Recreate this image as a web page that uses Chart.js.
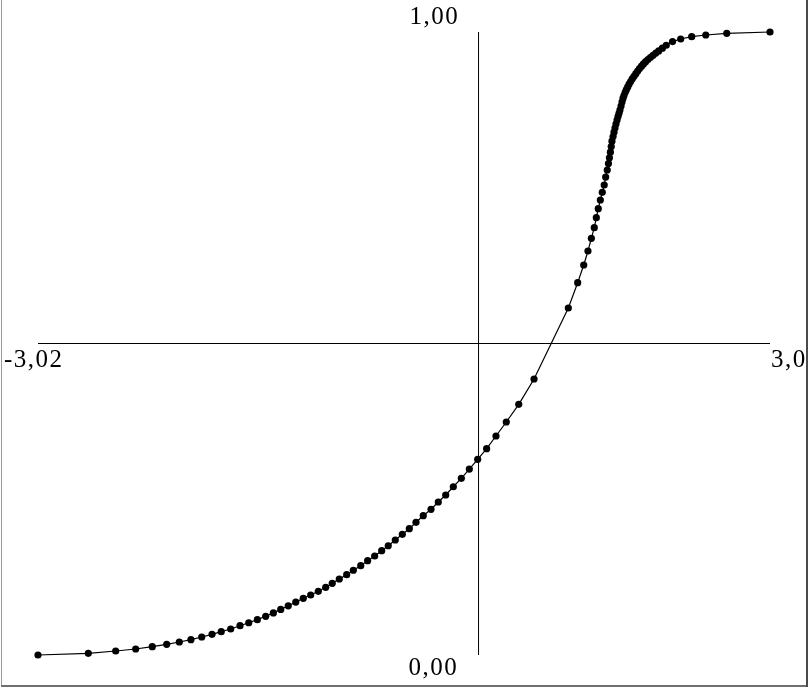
<!DOCTYPE html>
<html>
<head>
<meta charset="utf-8">
<script src="https://cdn.jsdelivr.net/npm/chart.js@4"></script>
<style>
  html, body { margin: 0; padding: 0; background: #fff; }
  canvas { display: block; }
</style>
</head>
<body>
<canvas id="curveChart" width="809" height="688"></canvas>
<script>
// curve points
const curveX = [
  -3.020, -2.605, -2.379, -2.214, -2.077, -1.958, -1.854, -1.758, -1.669, -1.584,
  -1.508, -1.430, -1.353, -1.281, -1.210, -1.141, -1.078, -1.017, -0.955, -0.893,
  -0.831, -0.770, -0.707, -0.646, -0.592, -0.534, -0.473, -0.418, -0.357, -0.300,
  -0.242, -0.184, -0.130, -0.072, -0.014, 0.044, 0.099, 0.159, 0.223, 0.283,
  0.344, 0.407, 0.473, 0.539, 0.608, 0.682, 0.759, 0.844, 0.947, 1.073,
  1.356, 1.433, 1.483, 1.518, 1.546, 1.570, 1.587, 1.603, 1.620, 1.636,
  1.652, 1.664, 1.677, 1.687, 1.695, 1.703, 1.710, 1.716, 1.725, 1.733,
  1.741, 1.749, 1.758, 1.766, 1.774, 1.782, 1.791, 1.799, 1.807, 1.815,
  1.825, 1.835, 1.846, 1.857, 1.870, 1.883, 1.898, 1.913, 1.928, 1.943,
  1.960, 1.976, 1.994, 2.013, 2.033, 2.055, 2.078, 2.102, 2.132, 2.164,
  2.216, 2.283, 2.374, 2.490, 2.663, 3.020
];
const curveY = [
  0.0000, 0.0027, 0.0064, 0.0096, 0.0133, 0.0172, 0.0209, 0.0246, 0.0289, 0.0332,
  0.0374, 0.0417, 0.0470, 0.0518, 0.0567, 0.0621, 0.0676, 0.0732, 0.0790, 0.0849,
  0.0910, 0.0963, 0.1022, 0.1087, 0.1151, 0.1220, 0.1289, 0.1360, 0.1433, 0.1514,
  0.1589, 0.1674, 0.1754, 0.1846, 0.1937, 0.2027, 0.2130, 0.2236, 0.2339, 0.2456,
  0.2568, 0.2701, 0.2836, 0.2985, 0.3141, 0.3311, 0.3515, 0.3740, 0.4024, 0.4430,
  0.5570, 0.5976, 0.6260, 0.6485, 0.6688, 0.6859, 0.7019, 0.7164, 0.7303, 0.7427,
  0.7544, 0.7672, 0.7785, 0.7888, 0.7981, 0.8071, 0.8162, 0.8247, 0.8321, 0.8392,
  0.8459, 0.8523, 0.8587, 0.8642, 0.8695, 0.8748, 0.8812, 0.8876, 0.8933, 0.8979,
  0.9032, 0.9075, 0.9119, 0.9162, 0.9204, 0.9246, 0.9289, 0.9331, 0.9372, 0.9414,
  0.9451, 0.9488, 0.9523, 0.9557, 0.9591, 0.9626, 0.9661, 0.9697, 0.9740, 0.9787,
  0.9846, 0.9888, 0.9925, 0.9952, 0.9979, 1.0000
];

// axes
const xMin = -3.02;
const xMax = 3.02;
const yMin = 0;
const yMax = 1;
const xAxisAtY = 0.5;     // horizontal axis line
const yAxisAtX = 0.615;   // vertical axis line

// labels at the ends of the axes
const xTickLabels = ['-3,02', '3,02'];
const yTickLabels = ['0,00', '1,00'];

const curvePoints = curveX.map((x, i) => ({ x: x, y: curveY[i] }));

// draws the end labels and the frame of the picture
const labelPlugin = {
    id: 'endLabels',
    afterDraw(chart) {
        const ctx = chart.ctx;
        const sx = chart.scales.x;
        const sy = chart.scales.y;
        const axisX = sx.getPixelForValue(yAxisAtX);
        const axisY = sy.getPixelForValue(xAxisAtY);

        ctx.save();
        ctx.beginPath();
        ctx.rect(0, 0, 806, 685);
        ctx.clip();
        ctx.fillStyle = '#000';
        ctx.font = '25px "Liberation Serif", "Times New Roman", serif';
        ctx.letterSpacing = '1.5px';
        ctx.textBaseline = 'alphabetic';
        ctx.textAlign = 'left';
        ctx.fillText(yTickLabels[1], axisX - 69, sy.getPixelForValue(yMax) - 8);
        ctx.fillText(yTickLabels[0], axisX - 70, sy.getPixelForValue(yMin) + 20);
        ctx.fillText(xTickLabels[0], sx.getPixelForValue(xMin) - 34, axisY + 23);
        ctx.fillText(xTickLabels[1], sx.getPixelForValue(xMax) + 1, axisY + 23);
        ctx.restore();

        // frame
        ctx.save();
        ctx.fillStyle = '#9a9a9a';
        ctx.fillRect(1, 0, 1, 686);
        ctx.fillStyle = '#6e6e6e';
        ctx.fillRect(1, 685, 807, 2);
        ctx.fillStyle = '#4a4a4a';
        ctx.fillRect(806, 0, 2, 687);
        ctx.restore();
    }
};

new Chart(document.getElementById('curveChart'), {
    type: 'scatter',
    data: {
        datasets: [
            {
                data: curvePoints,
                showLine: true,
                borderColor: '#000',
                borderWidth: 1.2,
                backgroundColor: '#000',
                pointRadius: 3.6,
                pointBorderWidth: 0,
                pointHoverRadius: 3.6,
                clip: false,
                order: 0
            },
            {
                data: [{ x: xMin, y: xAxisAtY }, { x: xMax, y: xAxisAtY }],
                showLine: true,
                borderColor: '#000',
                borderWidth: 1,
                pointRadius: 0,
                clip: false,
                order: 1
            },
            {
                data: [{ x: yAxisAtX, y: yMin }, { x: yAxisAtX, y: yMax }],
                showLine: true,
                borderColor: '#000',
                borderWidth: 1,
                pointRadius: 0,
                clip: false,
                order: 1
            }
        ]
    },
    options: {
        responsive: false,
        animation: false,
        layout: { padding: { left: 38, right: 39, top: 32, bottom: 33 } },
        scales: {
            x: { type: 'linear', min: xMin, max: xMax, display: false },
            y: { type: 'linear', min: yMin, max: yMax, display: false }
        },
        plugins: {
            legend: { display: false },
            tooltip: { enabled: false }
        }
    },
    plugins: [labelPlugin]
});
</script>
</body>
</html>
